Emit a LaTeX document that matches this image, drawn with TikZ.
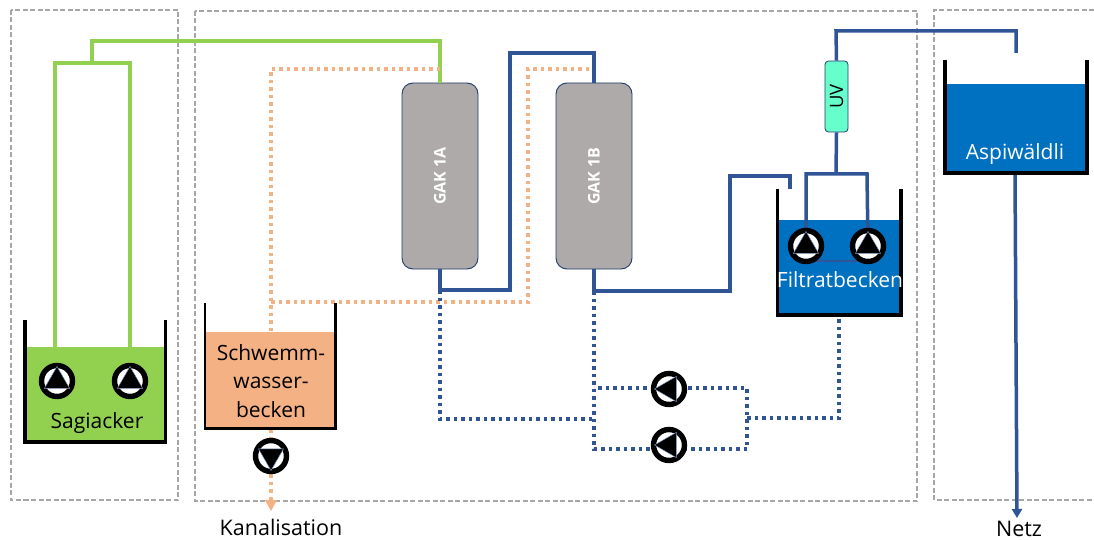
\documentclass[tikz,border=0pt]{standalone}
\usepackage{fontspec}
\setmainfont{Open Sans}
\usetikzlibrary{shapes.geometric,arrows.meta,calc}
\definecolor{pgreen}{HTML}{92D050}
\definecolor{porange}{HTML}{F4B183}
\definecolor{pblue}{HTML}{2F5597}
\definecolor{tblue}{HTML}{0070C0}
\definecolor{gakgrey}{HTML}{AEAAAA}
\definecolor{uvgreen}{HTML}{66FFCC}
\definecolor{zone}{HTML}{A6A6A6}
\tikzset{
  zonebox/.style={draw=zone,line width=1.2pt,dash pattern=on 5pt off 2.5pt},
  wall/.style={draw=black,line width=3.4pt,line cap=butt,line join=miter},
  water/.style={rectangle,inner sep=0pt,outer sep=0pt,draw=none},
  greenpipe/.style={draw=pgreen,line width=3.5pt,line join=miter},
  bluepipe/.style={draw=pblue,line width=3.5pt,line join=miter},
  bluedot/.style={draw=pblue,line width=3.5pt,dash pattern=on 3.5pt off 4pt},
  orangedot/.style={draw=porange,line width=3.5pt,dash pattern=on 3.5pt off 4pt},
  gak/.style={rectangle,rounded corners=11pt,draw=pblue!70!black,line width=0.9pt,fill=gakgrey,minimum width=76pt,minimum height=186pt,inner sep=0pt},
  gaklabel/.style={rotate=90,text=white,font=\fontsize{16}{19}\selectfont\bfseries,inner sep=0pt},
  uvbox/.style={rectangle,rounded corners=3.5pt,draw=pblue!70!black,line width=0.8pt,fill=uvgreen,minimum width=23pt,minimum height=71pt,inner sep=0pt},
  pumpring/.style={circle,draw=black,line width=5.4pt,fill=white,minimum size=31pt,inner sep=0pt},
  pumptri/.style={regular polygon,regular polygon sides=3,fill=black,draw=pblue!60!white,line width=0.5pt,minimum size=29pt,inner sep=0pt},
  tanktext/.style={font=\fontsize{21}{28.5}\selectfont,align=center,inner sep=0pt},
  freetext/.style={font=\fontsize{21.5}{25}\selectfont,inner sep=0pt}
}
\newcommand{\pumpat}[3]{%
  \node[pumpring] (#1) at (#2) {};
  \node[pumptri,shape border rotate=#3] (#1t) at (#1) {};
}
\begin{document}
\begin{tikzpicture}[x=1pt,y=-1pt]
\useasboundingbox (0,0) rectangle (1094,540);
% zones
\draw[zonebox] (11,10) rectangle (178,500);
\draw[zonebox] (195,11) rectangle (917,501);
\draw[zonebox] (1094,10) -- (934,10) -- (934,500) -- (1094,500);
% water bodies
\node[water,fill=pgreen,minimum width=140pt,minimum height=95pt,anchor=north west] (sag) at (25,347) {};
\node[water,fill=porange,minimum width=130pt,minimum height=97pt,anchor=north west] (sch) at (205,332) {};
\node[water,fill=tblue,minimum width=124pt,minimum height=95pt,anchor=north west] (fil) at (777,220) {};
\node[water,fill=tblue,minimum width=143pt,minimum height=89pt,anchor=north west] (asp) at (944,84) {};
% filters
\node[gak] (a) at (440,176) {};
\node[gak] (b) at (594,176) {};
\node[uvbox] (uv) at (836.5,96.5) {};
% junctions
\coordinate (g1) at (92,41); \coordinate (g2) at (92,63);
\coordinate (g3) at (55,63); \coordinate (g4) at (130,63);
\coordinate (o1) at (271,69); \coordinate (o2) at (271,302);
\coordinate (o3) at (528,302); \coordinate (o4) at (528,69);
\coordinate (o5) at (593,69); \coordinate (o6) at (440,69);
\coordinate (an) at (271,511);
\coordinate (bl1) at (440,290); \coordinate (bl2) at (510,290);
\coordinate (bl3) at (510,53); \coordinate (bl4) at (594,53);
\coordinate (br1) at (594,291); \coordinate (br2) at (730,291);
\coordinate (br3) at (730,176); \coordinate (br4) at (790,176);
\coordinate (br5) at (790,189);
\coordinate (d1) at (440,419); \coordinate (d2) at (594,419);
\coordinate (d3) at (594,388); \coordinate (d4) at (747,388);
\coordinate (d5) at (747,449); \coordinate (d6) at (594,449);
\coordinate (d7) at (747,418); \coordinate (d8) at (839,418);
\coordinate (f1) at (806,174); \coordinate (f2) at (867,174);
\coordinate (f3) at (836,174);
\coordinate (u1) at (836,31); \coordinate (u2) at (1016,31); \coordinate (u3) at (1016,53);
\coordinate (netz) at (1017,518);
\coordinate (l1) at (815,261); \coordinate (l2) at (858,261);
% pumps positions
\coordinate (ps1) at (57,381); \coordinate (ps2) at (130,381);
\coordinate (pk) at (271,456);
\coordinate (pm1) at (669,389); \coordinate (pm2) at (669,445);
\coordinate (pf1) at (806,246); \coordinate (pf2) at (868,246);
% green pipes
\draw[greenpipe] (a.north) -- (440,41) -- (g1) -- (g2);
\draw[greenpipe] (55,347) -- (g3) -- (g4) -- (130,347);
% orange dotted
\draw[orangedot] (o6) -- (o1) -- (271,332);
\draw[orangedot] (o2) -- (o3) -- (o4) -- (o5);
\draw[orangedot] (271,429) -- (271,501);
\draw[fill=porange,draw=none] (265,500) -- (277,500) -- (an) -- cycle;
% blue pipes
\draw[bluepipe] (a.south) -- (bl1) -- (bl2) -- (bl3) -- (bl4) -- (b.north);
\draw[bluepipe] (b.south) -- (br1) -- (br2) -- (br3) -- (br4) -- (br5);
\draw[bluepipe] (pf1) -- (f1) -- (f2) -- (pf2);
\draw[bluepipe] (uv.south) -- (f3);
\draw[bluepipe] (uv.north) -- (u1) -- (u2) -- (u3);
\draw[bluepipe,-{Triangle[length=9pt,width=10pt]}] (1015,173) -- (netz);
\draw[draw=pblue,line width=2.5pt] (l1) -- (l2);
% blue dotted
\draw[bluedot] (bl1) -- (d1) -- (d2);
\draw[bluedot] (br1) -- (d6) -- (d5) -- (d4) -- (d3);
\draw[bluedot] (d7) -- (d8) -- (839,316);
% tank walls
\draw[wall] (25,320) -- (25,442) -- (165.5,442) -- (165.5,320);
\draw[wall,line width=2.8pt] (205,303) -- (205,428.5) -- (335.5,428.5) -- (335.5,303);
\draw[wall] (777.5,189) -- (777.5,315) -- (901,315) -- (901,189);
\draw[wall] (945,60) -- (945,173) -- (1087,173) -- (1087,60);
% pumps
\pumpat{p1}{ps1}{0}
\pumpat{p2}{ps2}{0}
\pumpat{p3}{pk}{180}
\pumpat{p4}{pm1}{90}
\pumpat{p5}{pm2}{90}
\pumpat{p6}{pf1}{0}
\pumpat{p7}{pf2}{0}
% texts
\node[gaklabel] (ta) at (a) {GAK 1A};
\node[gaklabel] (tb) at (b) {GAK 1B};
\node[rotate=90,font=\fontsize{18.5}{22}\selectfont,inner sep=0pt] (tu) at (uv) {UV};
\node[tanktext] (t1) at (97,423) {Sagiacker};
\node[tanktext] (t2) at (271,381) {Schwemm-\\wasser-\\becken};
\node[tanktext,text=white] (t3) at (840,280) {Filtratbecken};
\node[tanktext,text=white] (t4) at (1015,154) {Aspiwäldli};
\node[freetext] (t5) at (281,527) {Kanalisation};
\node[freetext] (t6) at (1019,529) {Netz};
\end{tikzpicture}
\end{document}
